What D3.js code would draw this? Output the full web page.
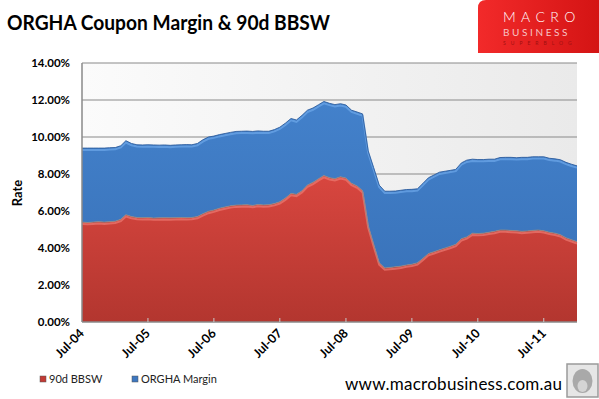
<!DOCTYPE html>
<html>
<head>
<meta charset="utf-8">
<script src="https://cdn.jsdelivr.net/npm/d3@7"></script>
<style>
  body { margin: 0; background: #fff; }
  svg { display: block; }
  text { font-family: Lato, "Open Sans", sans-serif; }
</style>
</head>
<body>
<script>
// monthly, Jul-04 .. Jan-12
var startMonth = '2004-07';
var bbsw = [
  5.40, 5.38, 5.40, 5.42, 5.40, 5.42,
  5.45, 5.55, 5.80, 5.70, 5.65, 5.64, 5.65, 5.62, 5.63, 5.64, 5.63, 5.64,
  5.65, 5.64, 5.65, 5.70, 5.85, 5.98, 6.05, 6.15, 6.22, 6.28, 6.32, 6.33,
  6.34, 6.30, 6.35, 6.33, 6.34, 6.40, 6.50, 6.70, 6.95, 6.90, 7.10, 7.40,
  7.55, 7.75, 7.92, 7.80, 7.75, 7.85, 7.78, 7.50, 7.35, 7.10, 5.20, 4.20,
  3.20, 2.92, 2.95, 2.98, 3.02, 3.08, 3.12, 3.20, 3.45, 3.70, 3.80, 3.90,
  4.00, 4.10, 4.20, 4.50, 4.60, 4.80, 4.78, 4.80, 4.85, 4.90, 4.97, 4.97,
  4.95, 4.93, 4.90, 4.92, 4.95, 4.97, 4.93, 4.85, 4.80, 4.72, 4.55, 4.45,
  4.34
];
var orghaMargin = [
  4.00, 4.02, 4.00, 3.98, 4.00, 4.00,
  3.98, 3.98, 4.00, 3.95, 3.93, 3.93, 3.93, 3.95, 3.93, 3.93, 3.92, 3.93,
  3.93, 3.95, 3.93, 3.95, 4.00, 4.02, 4.00, 3.98, 3.97, 3.97, 3.98, 3.98,
  3.98, 4.00, 3.98, 3.98, 3.97, 4.00, 4.03, 4.05, 4.05, 4.02, 4.07, 4.05,
  4.02, 4.00, 4.00, 4.02, 4.00, 3.95, 3.95, 3.95, 4.00, 4.15, 4.05, 4.15,
  4.20, 4.15, 4.12, 4.10, 4.10, 4.08, 4.05, 4.00, 4.05, 4.10, 4.15, 4.20,
  4.15, 4.10, 4.05, 4.10, 4.15, 4.00, 4.00, 3.98, 3.95, 3.90, 3.92, 3.93,
  3.95, 3.95, 4.00, 3.98, 3.98, 3.96, 4.00, 4.00, 4.02, 4.05, 4.08, 4.08,
  4.10
];
var xTickLabels = ['Jul-04', 'Jul-05', 'Jul-06', 'Jul-07', 'Jul-08', 'Jul-09', 'Jul-10', 'Jul-11'];
var yTicks = [0, 2, 4, 6, 8, 10, 12, 14];
var seriesNames = ['90d BBSW', 'ORGHA Margin'];

var width = 599, height = 399;
var plot = {left: 82, right: 577, top: 63, bottom: 322};

var svg = d3.select('body').append('svg')
    .attr('width', width)
    .attr('height', height);

var defs = svg.append('defs');

function vgrad(id, stops, horiz) {
  var g = defs.append('linearGradient').attr('id', id)
      .attr('x1', 0).attr('y1', 0)
      .attr('x2', horiz ? 1 : 0).attr('y2', horiz ? 0 : 1);
  stops.forEach(function(s) {
    g.append('stop').attr('offset', s[0]).attr('stop-color', s[1]);
  });
}
vgrad('bgGrad', [[0, '#fbfbfb'], [1, '#eaeaea']], true);
vgrad('redGrad', [[0, '#d8463f'], [1, '#b3362f']]);
vgrad('blueGrad', [[0, '#4381cb'], [1, '#3a74bb']]);
vgrad('logoGrad', [[0, '#f22a2a'], [1, '#d41414']], true);

var parseMonth = d3.timeParse('%Y-%m');
var parseTick = d3.timeParse('%b-%y');
var t0 = parseMonth(startMonth);

var data = bbsw.map(function(v, i) {
  return {date: d3.timeMonth.offset(t0, i), bbsw: v, margin: orghaMargin[i]};
});

var x = d3.scaleTime()
    .domain(d3.extent(data, function(d) { return d.date; }))
    .range([plot.left, plot.right]);

var y = d3.scaleLinear()
    .domain([0, 14])
    .range([plot.bottom, plot.top]);

var stack = d3.stack().keys(['bbsw', 'margin']);
var layers = stack(data);

// plot background
svg.append('rect')
    .attr('x', plot.left).attr('y', plot.top)
    .attr('width', plot.right - plot.left).attr('height', plot.bottom - plot.top)
    .attr('fill', 'url(#bgGrad)');

// gridlines
svg.append('g')
    .selectAll('line')
    .data(yTicks.slice(1))
  .enter().append('line')
    .attr('x1', plot.left).attr('x2', plot.right)
    .attr('y1', function(d) { return y(d); })
    .attr('y2', function(d) { return y(d); })
    .attr('stroke', '#8a8a8a')
    .attr('stroke-width', 1.2);

var area = d3.area()
    .x(function(d) { return x(d.data.date); })
    .y0(function(d) { return y(d[0]); })
    .y1(function(d) { return y(d[1]); });

var topLine = d3.line()
    .x(function(d) { return x(d.data.date); })
    .y(function(d) { return y(d[1]); });

var fills = ['url(#redGrad)', 'url(#blueGrad)'];
var hilite = ['#ec7a72', '#6ea8ea'];
var edge = ['#8a8a8a', '#2e5e9e'];

// draw margin first then bbsw so the red bevel sits over the blue
[1, 0].forEach(function(k) {
  var g = svg.append('g').attr('class', 'series-' + k);
  g.append('path')
      .datum(layers[k])
      .attr('d', area)
      .attr('fill', fills[k]);
  g.append('path')
      .datum(layers[k])
      .attr('d', topLine)
      .attr('transform', 'translate(0,1.8)')
      .attr('fill', 'none')
      .attr('stroke', hilite[k])
      .attr('stroke-width', 2)
      .attr('stroke-opacity', 0.7);
  g.append('path')
      .datum(layers[k])
      .attr('d', topLine)
      .attr('fill', 'none')
      .attr('stroke', edge[k])
      .attr('stroke-width', 0.9);
});

// axes
var xTickDates = xTickLabels.map(function(s) { return parseTick(s); });

svg.append('line')
    .attr('x1', plot.left).attr('x2', plot.left)
    .attr('y1', plot.top).attr('y2', plot.bottom)
    .attr('stroke', '#8a8a8a').attr('stroke-width', 1.5);
svg.append('line')
    .attr('x1', plot.left).attr('x2', plot.right)
    .attr('y1', plot.bottom).attr('y2', plot.bottom)
    .attr('stroke', '#8a8a8a').attr('stroke-width', 1.5);

svg.append('g')
    .selectAll('line')
    .data(xTickDates.slice(1))
  .enter().append('line')
    .attr('x1', function(d) { return x(d); })
    .attr('x2', function(d) { return x(d); })
    .attr('y1', plot.bottom).attr('y2', plot.bottom - 4)
    .attr('stroke', '#c8c8c8');

svg.append('g')
    .selectAll('text')
    .data(xTickDates)
  .enter().append('text')
    .attr('transform', function(d) {
      return 'translate(' + (x(d) + 3) + ',' + (plot.bottom + 12) + ') rotate(-45)';
    })
    .attr('text-anchor', 'end')
    .attr('font-size', '12.5px')
    .attr('font-weight', 'bold')
    .attr('fill', '#000')
    .text(function(d, i) { return xTickLabels[i]; });

svg.append('g')
    .selectAll('text')
    .data(yTicks)
  .enter().append('text')
    .attr('x', 70)
    .attr('y', function(d) { return y(d); })
    .attr('dy', '0.35em')
    .attr('text-anchor', 'end')
    .attr('font-size', '11.5px')
    .attr('font-weight', 'bold')
    .attr('fill', '#000')
    .text(function(d) { return d3.format('.2f')(d) + '%'; });

svg.append('text')
    .attr('transform', 'translate(22,193) rotate(-90)')
    .attr('text-anchor', 'middle')
    .attr('font-size', '13px')
    .attr('font-weight', 'bold')
    .text('Rate');

// title
svg.append('text')
    .attr('x', 7).attr('y', 30)
    .attr('font-size', '21px')
    .attr('font-weight', 'bold')
    .attr('textLength', 323)
    .attr('lengthAdjust', 'spacingAndGlyphs')
    .text('ORGHA Coupon  Margin & 90d BBSW');

// legend
var legendColors = ['#c23a34', '#3d77c0'];
var legendX = [40, 132];
var legend = svg.append('g')
    .selectAll('g')
    .data(seriesNames)
  .enter().append('g')
    .attr('transform', function(d, i) { return 'translate(' + legendX[i] + ',376)'; });
legend.append('rect')
    .attr('width', 6).attr('height', 6)
    .attr('fill', function(d, i) { return legendColors[i]; })
    .attr('stroke', '#555').attr('stroke-width', 0.5);
legend.append('text')
    .attr('x', 9).attr('y', 7)
    .attr('font-size', '11px')
    .attr('fill', '#222')
    .text(function(d) { return d; });

// site url
svg.append('text')
    .attr('x', 345).attr('y', 390)
    .attr('font-size', '17px')
    .attr('fill', '#000')
    .attr('textLength', 217)
    .text('www.macrobusiness.com.au');

// wolf badge
var badge = svg.append('g').attr('transform', 'translate(567,364)');
badge.append('rect').attr('width', 31).attr('height', 33)
    .attr('fill', '#e6e6e6').attr('stroke', '#9a9a9a').attr('stroke-width', 1.5);
badge.append('ellipse').attr('cx', 15.5).attr('cy', 17).attr('rx', 10).attr('ry', 12)
    .attr('fill', '#a9a9a9');
badge.append('ellipse').attr('cx', 15.5).attr('cy', 22).attr('rx', 5).attr('ry', 6)
    .attr('fill', '#d4d4d4');

// logo
var logo = svg.append('g');
logo.append('path')
    .attr('d', 'M478,53 L478,8 Q478,0 486,0 L599,0 L599,53 Z')
    .attr('fill', 'url(#logoGrad)');
logo.append('text')
    .attr('x', 503).attr('y', 22)
    .attr('font-family', 'DejaVu Sans, sans-serif')
    .attr('font-size', '14px')
    .attr('font-weight', 300)
    .attr('letter-spacing', '5.4px')
    .attr('fill', '#fff')
    .text('MACRO');
logo.append('text')
    .attr('x', 503).attr('y', 36)
    .attr('font-family', 'DejaVu Sans, sans-serif')
    .attr('font-size', '10px')
    .attr('letter-spacing', '2.6px')
    .attr('fill', '#f6c4c4')
    .text('BUSINESS');
logo.append('text')
    .attr('x', 503).attr('y', 45)
    .attr('font-family', 'DejaVu Sans, sans-serif')
    .attr('font-size', '5px')
    .attr('letter-spacing', '5px')
    .attr('fill', '#a01010')
    .text('SUPERBLOG');
</script>
</body>
</html>
